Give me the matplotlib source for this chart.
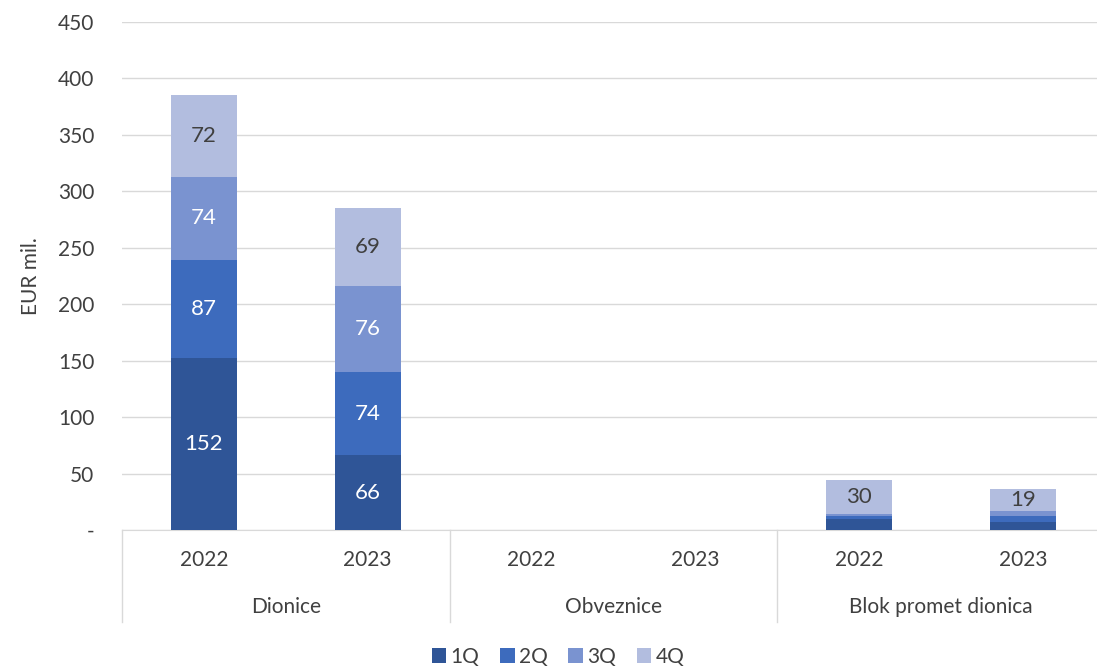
import numpy as np
import matplotlib
matplotlib.use('Agg')
import matplotlib.pyplot as plt

plt.rcParams['font.family'] = ['Lato', 'DejaVu Sans']

# data
groups = ['Dionice', 'Obveznice', 'Blok promet dionica']
years = ['2022', '2023']
quarters = ['1Q', '2Q', '3Q', '4Q']
q1 = [152, 66, 0, 0, 9.7, 7]
q2 = [87, 74, 0, 0, 2.8, 5]
q3 = [74, 76, 0, 0, 1.5, 5]
q4 = [72, 69, 0, 0, 30, 19]
labels = [
    ['152', '66', '', '', '', ''],
    ['87', '74', '', '', '', ''],
    ['74', '76', '', '', '', ''],
    ['72', '69', '', '', '30', '19'],
]
colors = ['#2F5597', '#3D6BBD', '#7A93D0', '#B2BDDF']
label_colors = ['white', 'white', 'white', '#404040']

fig = plt.figure(figsize=(10.97, 6.68), dpi=100)
ax = fig.add_axes([122 / 1097, 1 - 530 / 668, (1105 - 122) / 1097, (530 - 22) / 668])

x = np.arange(6)
bottom = np.zeros(6)
for i, vals in enumerate([q1, q2, q3, q4]):
    vals = np.array(vals, dtype=float)
    ax.bar(x, vals, 0.4, bottom=bottom, color=colors[i], label=quarters[i], zorder=3)
    for j in range(6):
        if labels[i][j]:
            ax.text(x[j], bottom[j] + vals[j] / 2, labels[i][j], ha='center', va='center',
                    color=label_colors[i], fontsize=16, zorder=4)
    bottom += vals

ax.set_xlim(-0.5, 5.5)
ax.set_ylim(0, 450)
ax.set_yticks(np.arange(0, 451, 50))
ax.set_yticklabels(['-'] + [str(v) for v in range(50, 451, 50)])
ax.yaxis.grid(True, color='#D9D9D9', linewidth=1, zorder=0)
ax.tick_params(axis='y', length=0, labelsize=15, labelcolor='#404040', pad=20)
ax.set_xticks([])
for s in ['top', 'right', 'left']:
    ax.spines[s].set_visible(False)
ax.spines['bottom'].set_color('#D9D9D9')
ax.set_ylabel('EUR mil.', fontsize=15, color='#404040', labelpad=12)

# two-level category axis
for j in range(6):
    ax.text(x[j], -30 / 1.129, years[j % 2], ha='center', va='center',
            fontsize=15, color='#404040', clip_on=False)
for g in range(3):
    ax.text(2 * g + 0.5, -77 / 1.129, groups[g], ha='center', va='center',
            fontsize=15, color='#404040', clip_on=False)
for b in [-0.5, 1.5, 3.5, 5.5]:
    ax.plot([b, b], [0, -92 / 1.129], color='#D9D9D9', linewidth=1, clip_on=False)

fig.legend(loc='center', bbox_to_anchor=(558 / 1097, 1 - 657 / 668), ncol=4, frameon=False,
           fontsize=15, handlelength=0.7, handleheight=0.7, handletextpad=0.2, columnspacing=1.0,
           labelcolor='#404040')

fig.savefig('out.png', dpi=100)
